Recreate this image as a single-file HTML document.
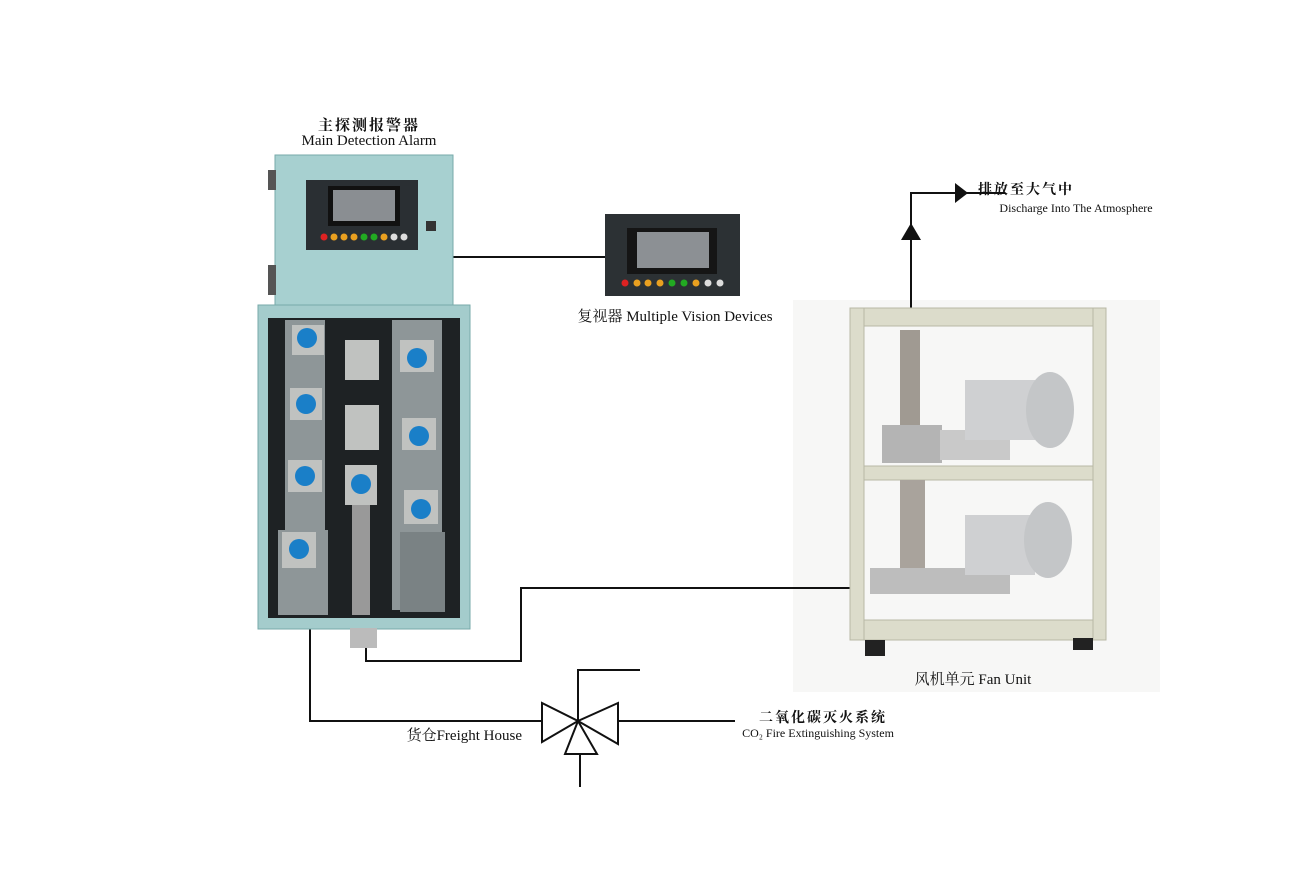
<!DOCTYPE html>
<html><head><meta charset="utf-8"><style>
html,body{margin:0;padding:0;background:#fff;}
svg{display:block}
text{font-family:"Liberation Serif","Noto Serif CJK SC",serif;fill:#111}
</style></head><body>
<svg width="1305" height="870" viewBox="0 0 1305 870" xmlns="http://www.w3.org/2000/svg">
<rect width="1305" height="870" fill="#fff"/>
<!-- fan unit background -->
<rect x="793" y="300" width="367" height="392" fill="#f7f7f6"/>
<!-- connectors -->
<g stroke="#111" stroke-width="2" fill="none">
<path d="M452 257 H606"/>
<path d="M366 648 V661 H521 V588 H856"/>
<path d="M310 628 V721 H542"/>
<path d="M618 721 H735"/>
<path d="M578 721 V670 H640"/>
<path d="M580 754 V787"/>
<path d="M911 308 V193 H1005"/>
<polygon points="542,703 542,742 578,721" fill="#fff"/>
<polygon points="618,703 618,744 578,721" fill="#fff"/>
<polygon points="578,721 565,754 597,754" fill="#fff"/>
</g>
<polygon points="911,223 901,240 921,240" fill="#111"/>
<polygon points="955,183 955,203 968,193" fill="#111"/>

<!-- main cabinet -->
<rect x="275" y="155" width="178" height="152" fill="#a7d0d0" stroke="#7aa" />
<rect x="268" y="170" width="8" height="20" fill="#555"/>
<rect x="268" y="265" width="8" height="30" fill="#555"/>
<rect x="306" y="180" width="112" height="70" fill="#2a2f33"/>
<rect x="328" y="186" width="72" height="40" fill="#111"/>
<rect x="333" y="190" width="62" height="31" fill="#8a8e92"/>
<g>
<circle cx="324" cy="237" r="3.5" fill="#d22"/><circle cx="334" cy="237" r="3.5" fill="#e9a020"/><circle cx="344" cy="237" r="3.5" fill="#e9a020"/><circle cx="354" cy="237" r="3.5" fill="#e9a020"/><circle cx="364" cy="237" r="3.5" fill="#2a2"/><circle cx="374" cy="237" r="3.5" fill="#2a2"/><circle cx="384" cy="237" r="3.5" fill="#e9a020"/><circle cx="394" cy="237" r="3.5" fill="#ddd"/><circle cx="404" cy="237" r="3.5" fill="#ddd"/>
</g>
<rect x="426" y="221" width="10" height="10" fill="#333"/>
<rect x="258" y="305" width="212" height="324" fill="#a4cccc" stroke="#7aa"/>
<rect x="268" y="318" width="192" height="300" fill="#1e2224"/>
<g fill="#8e9698">
<rect x="285" y="320" width="40" height="210" /><rect x="278" y="530" width="50" height="85"/>
<rect x="392" y="320" width="50" height="290"/>
</g>
<g fill="#c0c2c0">
<rect x="292" y="325" width="32" height="30"/><rect x="290" y="388" width="32" height="32"/><rect x="288" y="460" width="34" height="32"/><rect x="282" y="532" width="34" height="36"/>
<rect x="400" y="340" width="34" height="32"/><rect x="402" y="418" width="34" height="32"/><rect x="404" y="490" width="34" height="34"/>
<rect x="345" y="340" width="34" height="40"/><rect x="345" y="405" width="34" height="45"/><rect x="345" y="465" width="32" height="40"/>
</g>
<g fill="#1a7fc8">
<circle cx="307" cy="338" r="10"/><circle cx="306" cy="404" r="10"/><circle cx="305" cy="476" r="10"/><circle cx="299" cy="549" r="10"/>
<circle cx="417" cy="358" r="10"/><circle cx="419" cy="436" r="10"/><circle cx="421" cy="509" r="10"/><circle cx="361" cy="484" r="10"/>
</g>
<rect x="352" y="505" width="18" height="110" fill="#999"/>
<rect x="350" y="628" width="27" height="20" fill="#bbb"/>
<rect x="400" y="532" width="45" height="80" fill="#7a8284"/>

<!-- vision device -->
<rect x="605" y="214" width="135" height="82" fill="#2c3134"/>
<rect x="627" y="228" width="90" height="46" fill="#151515"/>
<rect x="637" y="232" width="72" height="36" fill="#8c9094"/>
<g>
<circle cx="625" cy="283" r="3.5" fill="#d22"/><circle cx="637" cy="283" r="3.5" fill="#e9a020"/><circle cx="648" cy="283" r="3.5" fill="#e9a020"/><circle cx="660" cy="283" r="3.5" fill="#e9a020"/><circle cx="672" cy="283" r="3.5" fill="#2a2"/><circle cx="684" cy="283" r="3.5" fill="#2a2"/><circle cx="696" cy="283" r="3.5" fill="#e9a020"/><circle cx="708" cy="283" r="3.5" fill="#ddd"/><circle cx="720" cy="283" r="3.5" fill="#ddd"/>
</g>

<!-- fan unit frame -->
<g fill="#dcdccb" stroke="#b8b8a6">
<rect x="850" y="308" width="256" height="18"/>
<rect x="850" y="308" width="14" height="332"/>
<rect x="1093" y="308" width="13" height="332"/>
<rect x="864" y="466" width="229" height="14"/>
<rect x="864" y="620" width="229" height="20"/>
</g>
<rect x="900" y="330" width="20" height="110" fill="#a09a92"/>
<rect x="882" y="425" width="60" height="38" fill="#b4b4b4"/>
<rect x="940" y="430" width="70" height="30" fill="#c9c9c9"/>
<rect x="965" y="380" width="70" height="60" fill="#cfd0d2"/>
<ellipse cx="1050" cy="410" rx="24" ry="38" fill="#c4c6c8"/>
<rect x="900" y="480" width="25" height="90" fill="#a9a39c"/>
<rect x="870" y="568" width="140" height="26" fill="#bdbdbd"/>
<rect x="965" y="515" width="70" height="60" fill="#cfd0d2"/>
<ellipse cx="1048" cy="540" rx="24" ry="38" fill="#c4c6c8"/>
<rect x="865" y="640" width="20" height="16" fill="#222"/>
<rect x="1073" y="638" width="20" height="12" fill="#222"/>

<!-- labels -->
<text x="369" y="130" font-size="15" text-anchor="middle" font-weight="bold" letter-spacing="2">主探测报警器</text>
<text x="369" y="145" font-size="15" text-anchor="middle">Main Detection Alarm</text>
<text x="675" y="321" font-size="15" text-anchor="middle">复视器 Multiple Vision Devices</text>
<text x="1026" y="194" font-size="14" text-anchor="middle" font-weight="bold" letter-spacing="2">排放至大气中</text>
<text x="1076" y="212" font-size="12" text-anchor="middle">Discharge Into The Atmosphere</text>
<text x="973" y="684" font-size="15" text-anchor="middle">风机单元 Fan Unit</text>
<text x="823" y="722" font-size="14" text-anchor="middle" font-weight="bold" letter-spacing="2">二氧化碳灭火系统</text>
<text x="818" y="737" font-size="12" text-anchor="middle">CO₂ Fire Extinguishing System</text>
<text x="522" y="740" font-size="15" text-anchor="end">货仓Freight House</text>
</svg>
</body></html>
